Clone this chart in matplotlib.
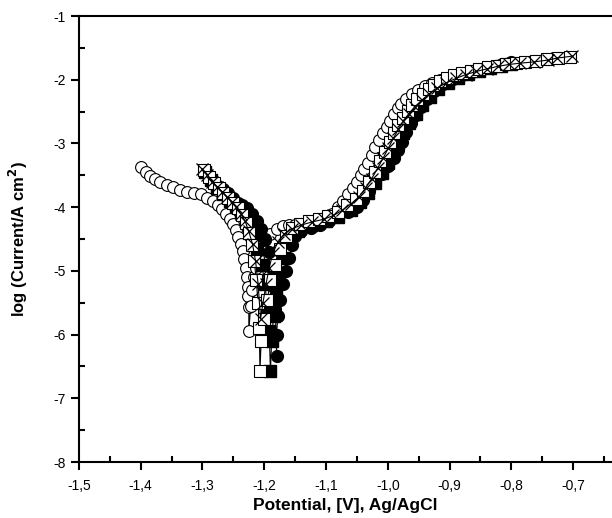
import matplotlib
matplotlib.use("Agg")
import matplotlib.pyplot as plt
from matplotlib.ticker import MultipleLocator, FuncFormatter

plt.rcParams['font.family'] = ['Liberation Sans', 'DejaVu Sans']

# open circles
x_oc = [-1.400, -1.392, -1.385, -1.377, -1.368, -1.358, -1.347, -1.336, -1.325, -1.313,
        -1.302, -1.292, -1.283, -1.275, -1.268, -1.262, -1.256, -1.251, -1.246, -1.242,
        -1.238, -1.235, -1.232, -1.230, -1.228, -1.227, -1.226, -1.225, -1.225,
        -1.222, -1.220, -1.217, -1.214, -1.210, -1.205, -1.198, -1.190, -1.180, -1.170,
        -1.160, -1.150, -1.140, -1.128, -1.115, -1.102, -1.090, -1.080, -1.072, -1.064,
        -1.057, -1.050, -1.044, -1.038, -1.032, -1.026, -1.020, -1.014, -1.008, -1.002,
        -0.996, -0.990, -0.984, -0.978, -0.970, -0.961, -0.951, -0.940, -0.928, -0.915,
        -0.900, -0.888, -0.872, -0.856]
y_oc = [-3.37, -3.45, -3.51, -3.56, -3.61, -3.65, -3.69, -3.73, -3.76, -3.78,
        -3.80, -3.85, -3.90, -3.96, -4.03, -4.10, -4.18, -4.27, -4.36, -4.46,
        -4.57, -4.69, -4.82, -4.95, -5.10, -5.25, -5.40, -5.56, -5.95,
        -5.55, -5.30, -5.10, -4.95, -4.80, -4.65, -4.52, -4.42, -4.35, -4.30,
        -4.28, -4.28, -4.28, -4.27, -4.25, -4.20, -4.10, -4.00, -3.90, -3.80,
        -3.70, -3.60, -3.50, -3.40, -3.30, -3.18, -3.06, -2.95, -2.84, -2.74,
        -2.64, -2.54, -2.45, -2.38, -2.30, -2.23, -2.16, -2.10, -2.05, -2.01,
        -1.97, -1.93, -1.89, -1.86]

# filled circles
x_fc = [-1.295, -1.288, -1.280, -1.273, -1.266, -1.258, -1.250, -1.243, -1.236, -1.228,
        -1.220, -1.212, -1.205, -1.198, -1.192, -1.187, -1.184, -1.182, -1.180,
        -1.180, -1.178, -1.175, -1.170, -1.165, -1.160, -1.155, -1.150, -1.140, -1.125,
        -1.110, -1.095, -1.080, -1.065, -1.050, -1.040, -1.030, -1.020, -1.010, -1.000,
        -0.990, -0.983, -0.977, -0.970, -0.963, -0.955, -0.946, -0.937, -0.925, -0.910,
        -0.895, -0.880, -0.865, -0.850, -0.830, -0.815, -0.800]
y_fc = [-3.45, -3.55, -3.62, -3.68, -3.72, -3.78, -3.86, -3.93, -3.97, -4.02,
        -4.10, -4.22, -4.35, -4.50, -4.70, -4.95, -5.25, -5.60, -6.33,
        -6.00, -5.70, -5.45, -5.20, -5.00, -4.80, -4.60, -4.45, -4.38, -4.32,
        -4.28, -4.22, -4.15, -4.08, -4.00, -3.88, -3.75, -3.62, -3.48, -3.35,
        -3.22, -3.10, -2.97, -2.82, -2.68, -2.55, -2.42, -2.30, -2.18, -2.07,
        -1.99, -1.93, -1.88, -1.84, -1.80, -1.76, -1.72]

# open squares
x_os = [-1.298, -1.290, -1.282, -1.274, -1.266, -1.258, -1.250, -1.243, -1.236, -1.230,
        -1.225, -1.220, -1.216, -1.213, -1.210, -1.208, -1.207,
        -1.205, -1.200, -1.195, -1.190, -1.183, -1.175, -1.165, -1.155, -1.142, -1.128,
        -1.112, -1.096, -1.080, -1.066, -1.052, -1.040, -1.030, -1.020, -1.012, -1.004,
        -0.997, -0.990, -0.983, -0.976, -0.968, -0.960, -0.952, -0.943, -0.934, -0.925,
        -0.915, -0.904, -0.892, -0.880, -0.866, -0.852, -0.838, -0.823, -0.808, -0.793,
        -0.778, -0.760, -0.742, -0.724, -0.705]
y_os = [-3.42, -3.52, -3.62, -3.70, -3.78, -3.86, -3.94, -4.02, -4.12, -4.25,
        -4.40, -4.60, -4.85, -5.15, -5.50, -5.90, -6.57,
        -6.10, -5.75, -5.45, -5.15, -4.90, -4.65, -4.45, -4.33, -4.26, -4.22,
        -4.18, -4.14, -4.07, -3.97, -3.87, -3.75, -3.60, -3.44, -3.28, -3.13,
        -2.98, -2.84, -2.71, -2.60, -2.49, -2.39, -2.30, -2.22, -2.15, -2.08,
        -2.02, -1.97, -1.93, -1.90, -1.86, -1.83, -1.80, -1.78, -1.76, -1.74,
        -1.72, -1.70, -1.68, -1.66, -1.64]

# filled squares
x_fs = [-1.296, -1.286, -1.276, -1.266, -1.256, -1.246, -1.237, -1.228, -1.219, -1.211,
        -1.204, -1.199, -1.195, -1.192, -1.190,
        -1.188, -1.185, -1.181, -1.176, -1.170, -1.160, -1.145, -1.125, -1.100, -1.080,
        -1.060, -1.045, -1.032, -1.020, -1.010, -1.000, -0.992, -0.984, -0.975, -0.965,
        -0.955, -0.944, -0.932, -0.918, -0.903, -0.887, -0.870, -0.852, -0.834, -0.816,
        -0.800]
y_fs = [-3.44, -3.58, -3.70, -3.80, -3.90, -3.98, -4.08, -4.22, -4.42, -4.65,
        -4.90, -5.20, -5.55, -5.95, -6.57,
        -6.10, -5.70, -5.35, -5.05, -4.80, -4.55, -4.38, -4.28, -4.22, -4.15,
        -4.05, -3.92, -3.78, -3.62, -3.46, -3.30, -3.15, -3.00, -2.84, -2.68,
        -2.53, -2.40, -2.27, -2.15, -2.05, -1.97, -1.91, -1.86, -1.82, -1.78,
        -1.75]

# crosses
x_cr = [-1.300, -1.292, -1.284, -1.276, -1.268, -1.260, -1.252, -1.245, -1.238, -1.231,
        -1.225, -1.219, -1.214, -1.210, -1.206,
        -1.202, -1.197, -1.192, -1.186, -1.178, -1.168, -1.155, -1.140, -1.122, -1.104,
        -1.088, -1.074, -1.060, -1.047, -1.036, -1.026, -1.016, -1.007, -0.999, -0.991,
        -0.983, -0.975, -0.966, -0.956, -0.945, -0.933, -0.920, -0.906, -0.890, -0.874,
        -0.857, -0.840, -0.822, -0.804, -0.786, -0.764, -0.740, -0.726, -0.702]
y_cr = [-3.40, -3.50, -3.60, -3.68, -3.76, -3.84, -3.92, -4.00, -4.10, -4.22,
        -4.38, -4.58, -4.85, -5.20, -5.75,
        -5.50, -5.20, -4.95, -4.72, -4.55, -4.42, -4.34, -4.28, -4.23, -4.19,
        -4.13, -4.05, -3.95, -3.84, -3.70, -3.55, -3.38, -3.22, -3.07, -2.92,
        -2.78, -2.65, -2.53, -2.42, -2.32, -2.22, -2.13, -2.05, -1.98, -1.92,
        -1.87, -1.83, -1.79, -1.76, -1.74, -1.72, -1.69, -1.66, -1.63]

fig = plt.figure(figsize=(6.12, 5.18), dpi=100)
ax = fig.add_axes([0.129, 0.108, 0.871, 0.861])

ms = 8.5
ax.plot(x_oc, y_oc, '-o', color='black', mfc='white', mec='black', ms=ms, lw=0.8, mew=0.8)
ax.plot(x_fc, y_fc, '-o', color='black', mfc='black', mec='black', ms=ms, lw=0.8)
ax.plot(x_fs, y_fs, '-s', color='black', mfc='black', mec='black', ms=ms, lw=0.8)
ax.plot(x_os, y_os, '-s', color='black', mfc='white', mec='black', ms=ms, lw=0.8, mew=0.8)
ax.plot(x_cr, y_cr, '-x', color='black', ms=ms, lw=0.8, mew=0.9)

ax.set_xlim(-1.5, -0.637)
ax.set_ylim(-8, -1)

ax.xaxis.set_major_locator(MultipleLocator(0.1))
ax.xaxis.set_minor_locator(MultipleLocator(0.05))
ax.yaxis.set_major_locator(MultipleLocator(1))
ax.yaxis.set_minor_locator(MultipleLocator(0.5))
ax.xaxis.set_major_formatter(FuncFormatter(lambda v, p: f"{v:.1f}".replace('.', ',')))
ax.yaxis.set_major_formatter(FuncFormatter(lambda v, p: f"{v:.0f}"))

ax.tick_params(which='major', direction='out', length=6, width=1.5, labelsize=10)
ax.tick_params(which='minor', direction='in', length=4, width=1.5)
ax.tick_params(top=False, right=False)
ax.tick_params(axis='x', which='major', pad=6)

for s in ['left', 'bottom', 'top']:
    ax.spines[s].set_linewidth(1.5)
ax.spines['right'].set_visible(False)

ax.set_xlabel('Potential, [V], Ag/AgCl', fontsize=12.5, fontweight='bold')
ax.set_ylabel('log (Current/A cm$^\\mathbf{2}$)', fontsize=12, fontweight='bold')
ax.yaxis.set_label_coords(-0.092, 0.5)

fig.savefig('out.png', dpi=100)
